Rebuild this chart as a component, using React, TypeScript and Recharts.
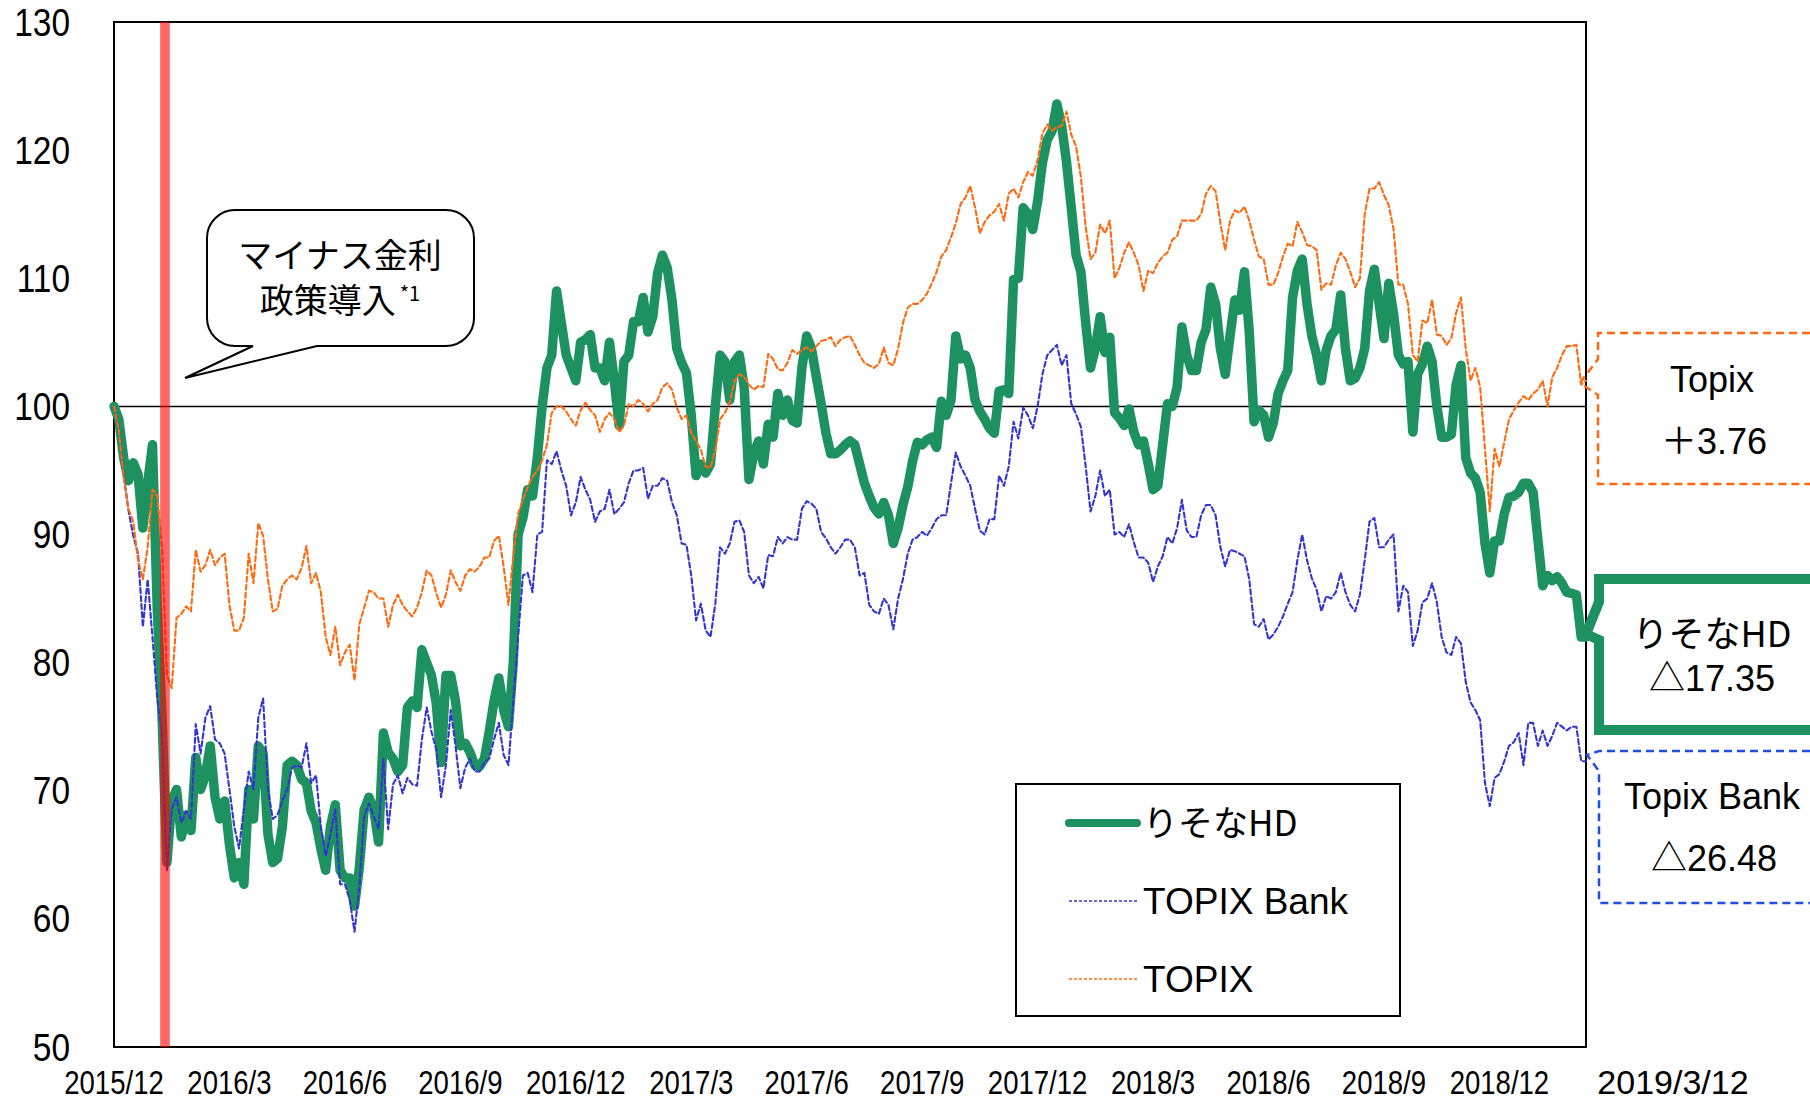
import React from "react";
import {
  LineChart,
  Line,
  XAxis,
  YAxis,
  ReferenceLine,
  ReferenceArea,
  Legend,
} from "recharts";

// index values (base 100), sampled roughly every 4 days, 2015/12 -> 2019/3/12
const risona = [
  100, 99, 96, 94.2, 95.6, 94.7, 90.5, 94, 97, 84.2,
  75.7, 64.4, 69.2, 70.1, 66.4, 68.1, 66.9, 72.6, 70.1, 71.2,
  73.5, 69.5, 67.8, 69.2, 65.8, 63.2, 64.4, 62.7, 70.1, 67.8,
  73.5, 72.9, 66.6, 64.4, 64.7, 67.2, 72, 72.3, 72, 70.9,
  70.6, 68.4, 67.5, 65.5, 63.8, 67.2, 68.9, 63.8, 63.2, 63.2,
  61, 64, 68.5, 69.5, 68.5, 66, 74.5, 73, 72.5, 71.5,
  72, 76.5, 77, 76.5, 81, 80, 79, 76.8, 72.2, 79,
  79, 77, 73.5, 73.7, 73, 72, 71.9, 72.5, 74.6, 77,
  78.8, 76.3, 75, 80, 90, 91.3, 93.5, 93, 96, 100,
  103, 104, 109, 106.5, 104, 103, 102, 105, 105.2, 105.6,
  103, 103, 102, 105, 102, 98.5, 103.5, 104, 106.6, 106.6,
  108.5, 105.8, 107, 110.4, 111.8, 110.8, 108.3, 104.5, 103.4, 102.6,
  99.3, 94.6, 95.5, 94.8, 95.5, 100, 104, 103.5, 100.5, 103.5,
  104, 101.5, 94.3, 96.3, 97.3, 95.5, 98.6, 97.6, 101, 99.3,
  100.5, 98.9, 98.7, 103, 105.5, 104.5, 102.3, 100.2, 97.9, 96.3,
  96.3, 96.6, 97, 97.3, 97, 95.5, 94, 93, 92.1, 91.6,
  92.5, 91.5, 89.3, 90.5, 92.3, 93.7, 95.7, 97.2, 97, 97.4,
  97.6, 96.8, 100.4, 99.3, 100.5, 105.5, 103.7, 104, 103, 100.5,
  99.6, 99, 98.3, 97.9, 101.2, 101.3, 101, 109.9, 110, 115.5,
  115, 113.8, 116, 119, 120.8, 121.5, 123.6, 121.9, 119.1, 115.5,
  111.8, 110.5, 106.5, 103, 104.5, 107, 104.2, 105.4, 99.5, 99.1,
  98.5, 99.8, 98, 97, 97.3, 95.5, 93.5, 93.8, 97, 100.2,
  100, 101.5, 106.2, 104, 102.8, 102.8, 105, 106, 109.3, 108,
  104.5, 102.5, 105.5, 108.3, 107.5, 110.5, 105.8, 98.8, 99.7, 99.3,
  97.6, 98.7, 101, 102, 102.8, 108.5, 110.6, 111.5, 108, 105.5,
  104, 102, 104.4, 105.5, 106, 108.7, 104.5, 102, 102.2, 103,
  104.5, 109, 110.7, 108, 105.3, 109.6, 107.2, 104, 103.3, 103.5,
  98, 102.5, 103.3, 104.7, 103.5, 100, 97.6, 97.6, 97.8, 101.7,
  103.2, 96, 94.8, 94.4, 93.3, 89.3, 87, 89.5, 89.5, 91.6,
  92.9, 93, 93.3, 94, 94, 93.3, 89.6, 86, 86.8, 86.4,
  86.7, 86.2, 85.5, 85.4, 85.3, 82, 82,
];

const topixBank = [
  100, 98.4, 94.7, 91.9, 89.9, 88.5, 82.8, 86.5, 82, 77.2,
  74.3, 63.8, 68.6, 69.5, 67.5, 68.4, 67.8, 75.2, 72.9, 75.7,
  76.6, 74, 73.7, 72.9, 70.1, 67.2, 65.5, 68.6, 71.5, 70.1,
  75.7, 77.2, 70.1, 67.8, 68.1, 69.2, 70.1, 71.8, 72, 71.8,
  73.7, 70.6, 71.2, 67.2, 64.9, 66.6, 68.6, 62.7, 62.7, 61.5,
  59, 62.5, 68, 69, 68, 67, 72.5, 67, 70.5, 71.2,
  69.8, 71, 70.5, 70.4, 74, 76.5, 74.6, 73.2, 69.5, 72,
  76.3, 73.5, 70.2, 71.8, 72.5, 71.5, 71.5, 72.2, 72.5, 74,
  75.3, 72.8, 72, 77, 82, 86.8, 87, 85.5, 90, 90.2,
  95.8, 95.5, 96.5, 95, 93.8, 91.5, 92.5, 94.5, 93.5, 92.7,
  91, 91.8, 92, 93.5, 91.6, 92, 92.5, 94, 95, 95,
  95.2, 92.8, 93.8, 93.8, 94.4, 94.2, 92.5, 91.5, 89.3, 89.2,
  86.8, 83.3, 84.6, 82.5, 82, 84.6, 89, 88.5, 89.3, 91,
  91.1, 90.2, 86.8, 86.2, 86.7, 85.8, 88.4, 88.3, 89.8, 89.3,
  89.8, 89.6, 89.6, 92, 92.6, 92.4, 92, 90.2, 89.7, 89,
  88.5, 89, 89.6, 89.6, 89, 86.8, 87, 84.5, 84, 83.8,
  85, 84.5, 82.6, 85, 86.5, 88.5, 89.6, 89.8, 90.2, 89.9,
  90.5, 91.2, 91.5, 91.5, 94, 96.4, 95.3, 94.6, 93.8, 92,
  90.3, 90, 91.2, 91.2, 94.6, 93.8, 95.3, 98.8, 97.5, 99.9,
  99.3, 98.3, 100, 102.5, 104, 104.4, 104.8, 103.2, 104, 100.2,
  99.4, 98.4, 95.3, 91.8, 93, 95, 93, 93.5, 90, 90.2,
  89.8, 90.8, 89.4, 88.2, 88.2, 87.8, 86.3, 87.5, 88.3, 89.8,
  89.3, 90.5, 92.7, 90.3, 89.8, 89.8, 91.5, 92.3, 92.3, 91.5,
  89, 87.5, 88.8, 88.7, 88.5, 88.3, 86.5, 83, 82.8, 83.4,
  81.8, 82.2, 82.8, 83.6, 84.6, 85.5, 88, 90, 88, 86.6,
  85.7, 84, 85.2, 85, 85.5, 87, 85.5, 84.5, 84, 85.3,
  88, 91, 91.3, 89, 89, 89.6, 90, 84, 86, 85.5,
  81.3, 82.5, 84.7, 85, 86.2, 84.7, 82, 80.8, 80.6, 82,
  81.5, 78.5, 76.9, 76.3, 75.5, 70.6, 68.8, 71, 71.3, 72.3,
  73.5, 73.8, 74.5, 72, 75.3, 75.3, 73.5, 74.7, 73.5, 74.3,
  75.3, 75, 74.7, 75, 75, 72.3, 72.3,
];

const topix = [
  100, 98.2, 94.5, 92, 91, 88, 86.5, 89, 93.5, 93,
  88.8, 79, 78, 83.5, 83.8, 84.4, 84, 88.8, 87.1, 87.6,
  88.8, 87.6, 88.2, 88.5, 84.5, 82.5, 82.5, 83.5, 88.5, 86.2,
  90.9, 89.9, 86.5, 84, 84.2, 86, 86.5, 86.8, 86.5, 87.4,
  89.1, 86.2, 87, 85.5, 82, 80.6, 82.8, 79.8, 80.8, 81.4,
  78.6, 83, 84.3, 85.6, 85.5, 85, 85, 82.8, 84.5, 85.3,
  84.5, 84, 83.6, 84.3, 85.5, 87.2, 86.8, 85.4, 84.3, 85.3,
  87.2, 86.3, 85.6, 86.8, 87.3, 87.1, 87.5, 88.2, 88.2, 89.5,
  89.9, 87.5, 84.5, 88.3, 91.6, 92.7, 93.7, 94.5, 95, 95.8,
  97, 99.5, 100, 100, 99.6, 99, 98.5, 99.7, 100.3, 99.7,
  99.3, 98, 99, 99.5, 99, 98, 98.5, 100.2, 100, 100.5,
  100.2, 99.6, 100.2, 100.5, 101.5, 101.8, 101.3, 99.9, 99, 99.3,
  97.9, 97.3, 96.6, 95.3, 95.2, 96.6, 99, 99.5, 100.3, 102,
  102.5, 102.3, 101.7, 101.3, 101.6, 101.5, 104.1, 103.7, 102.9, 102.8,
  103.4, 104.4, 104.1, 104.4, 104.6, 104.3, 104.7, 105.1, 105.2, 105.4,
  104.7, 105.2, 105.4, 105.5, 104.8, 104, 103.4, 103.2, 103, 103.3,
  104.6, 103.4, 103.2, 104.5, 106.5, 107.7, 108, 108, 108.3, 108.8,
  109.6, 110.5, 111.7, 112.2, 113.2, 114.3, 115.8, 116.3, 117.2, 115.5,
  113.5, 114.4, 114.9, 115.2, 115.8, 114.5, 116.6, 117, 116.3, 117.5,
  118.3, 118, 119.2, 121.3, 122, 121.5, 121.8, 121.9, 123, 121.2,
  120.3, 117.9, 114, 111.5, 112, 114.2, 113.5, 114.5, 110, 110.8,
  112, 112.8, 112, 111, 109, 110.6, 110.4, 111.2, 111.7, 112,
  113, 113.3, 114.5, 114.5, 114.5, 114.5, 115, 116.6, 117.2, 116.8,
  114.3, 112.2, 114.5, 115.3, 115.1, 115.6, 114.5, 113, 111.7, 111.5,
  109.5, 109.5, 110.4, 111.7, 112.7, 112.5, 114.4, 113.6, 112.6, 112.5,
  112.2, 109.1, 109.6, 109.5, 111, 112, 111.5, 110.5, 109.3, 110,
  115, 117, 117, 117.5, 116.5, 115.7, 113.8, 109.5, 109.5, 108,
  104, 103.5, 106.7, 106.5, 108.3, 105.6, 105.5, 104.8, 105.3, 107.3,
  108.5, 104.5, 102, 103, 101.5, 96.7, 91.8, 96.7, 95.3, 97.2,
  99, 99.7, 100.3, 100.8, 100.5, 101, 101.3, 102, 100, 102.3,
  103, 104, 104.7, 104.7, 104.8, 101.7, 102,
];

const quarterLabels = [
  "2015/12", "2016/3", "2016/6", "2016/9", "2016/12", "2017/3", "2017/6",
  "2017/9", "2017/12", "2018/3", "2018/6", "2018/9", "2018/12",
];
const samplesPerQuarter = 24;
const lastDateLabel = "2019/3/12";
const yTicks = [50, 60, 70, 80, 90, 100, 110, 120, 130];

// 2016/1/29 BOJ negative rate decision, as sample positions
const bojFrom = 9.6;
const bojTo = 11.6;

const GREEN = "#1e9160";
const BLUE = "#3434d0";
const ORANGE = "#ff6a10";
const LATIN = '"Liberation Sans", Arial, "Noto Sans CJK JP", sans-serif';
const JP = '"Noto Sans CJK JP", "Liberation Sans", sans-serif';

const series = [
  { key: "risona", name: "りそなHD", color: GREEN, width: 9.5, dash: undefined, font: JP },
  { key: "bank", name: "TOPIX Bank", color: BLUE, width: 2.1, dash: "5 3", font: LATIN },
  { key: "topix", name: "TOPIX", color: ORANGE, width: 2.1, dash: "5 3", font: LATIN },
];

const data = risona.map((v, i) => ({
  i,
  risona: v,
  bank: topixBank[i],
  topix: topix[i],
}));

// condensed labels like the original
function DateTick({ x, y, payload }: any) {
  const label = quarterLabels[Math.round(payload.value / samplesPerQuarter)];
  return (
    <g transform={`translate(${x},${y})`}>
      <text
        transform="scale(0.81,1)"
        textAnchor="middle"
        dy="0.71em"
        fontSize={34}
        fontFamily={LATIN}
        fill="#000"
      >
        {label}
      </text>
    </g>
  );
}

function ValueTick({ x, y, payload }: any) {
  return (
    <g transform={`translate(${x},${y})`}>
      <text
        transform="scale(0.88,1)"
        textAnchor="end"
        dy="0.355em"
        fontSize={38}
        fontFamily={LATIN}
        fill="#000"
      >
        {payload.value}
      </text>
    </g>
  );
}

function LegendBox() {
  return (
    <div
      style={{
        width: 386,
        height: 234,
        border: "2px solid #000",
        boxSizing: "border-box",
        background: "#fff",
      }}
    >
      <svg width={382} height={230}>
        {series.map((s, k) => {
          const y = 38 + k * 78;
          return (
            <g key={s.key}>
              <line
                x1={52}
                x2={120}
                y1={y}
                y2={y}
                stroke={s.color}
                strokeWidth={k === 0 ? 8 : 1.6}
                strokeDasharray={k === 0 ? undefined : "3 2"}
                strokeLinecap={k === 0 ? "round" : "butt"}
              />
              <text
                x={126}
                y={y}
                dy="0.36em"
                fontSize={k === 0 ? 35 : 37}
                fontFamily={s.font}
                fill="#000"
              >
                {s.name}
              </text>
            </g>
          );
        })}
      </svg>
    </div>
  );
}

export default function App() {
  const last = data.length - 1;
  return (
    <div
      style={{
        position: "absolute",
        left: 0,
        top: 0,
        width: 1810,
        height: 1103,
        background: "#fff",
        overflow: "hidden",
      }}
    >
      <LineChart
        width={1810}
        height={1103}
        data={data}
        margin={{ top: 22, right: 224, bottom: 0, left: 0 }}
      >
        <ReferenceArea
          x1={0}
          x2={last}
          y1={50}
          y2={130}
          fill="#fff"
          fillOpacity={0}
          stroke="#000"
          strokeWidth={2}
        />
        <XAxis
          type="number"
          dataKey="i"
          domain={[0, last]}
          ticks={quarterLabels.map((_, k) => k * samplesPerQuarter)}
          interval={0}
          axisLine={false}
          tickLine={false}
          tickSize={0}
          tickMargin={23}
          height={56}
          tick={<DateTick />}
        />
        <YAxis
          type="number"
          domain={[50, 130]}
          ticks={yTicks}
          interval={0}
          axisLine={false}
          tickLine={false}
          tickSize={0}
          tickMargin={44}
          width={114}
          tick={<ValueTick />}
        />
        <ReferenceLine y={100} stroke="#000" strokeWidth={1.5} />
        {series.map((s) => (
          <Line
            key={s.key}
            type="linear"
            dataKey={s.key}
            name={s.name}
            stroke={s.color}
            strokeWidth={s.width}
            strokeDasharray={s.dash}
            strokeLinejoin="round"
            strokeLinecap="round"
            dot={false}
            activeDot={false}
            isAnimationActive={false}
          />
        ))}
        <ReferenceArea
          x1={bojFrom}
          x2={bojTo}
          y1={50}
          y2={130}
          fill="#ff0000"
          fillOpacity={0.6}
          stroke="none"
          zIndex={700}
        />
        <Legend
          layout="horizontal"
          verticalAlign="middle"
          align="center"
          content={LegendBox}
          wrapperStyle={{ position: "absolute", left: 1015, top: 783, width: 386, height: 234 }}
        />
      </LineChart>

      <svg
        width={1810}
        height={1103}
        style={{ position: "absolute", left: 0, top: 0, pointerEvents: "none" }}
      >
        {/* speech bubble */}
        <path
          d="M235,210 H446 A28,28 0 0 1 474,238 V318 A28,28 0 0 1 446,346 H317 L185,378 L253,346 H235 A28,28 0 0 1 207,318 V238 A28,28 0 0 1 235,210 Z"
          fill="#fff"
          stroke="#000"
          strokeWidth={2}
        />
        <text x={340} y={268} textAnchor="middle" fontSize={34} fontFamily={JP} fill="#000">
          マイナス金利
        </text>
        <text x={340} y={313} textAnchor="middle" fontSize={34} fontFamily={JP} fill="#000">
          政策導入
          <tspan fontSize={20} dy={-12} dx={4}>
            *1
          </tspan>
        </text>

        {/* Topix callout */}
        <path
          d="M1810,333 H1598 V359 L1580,383 L1598,395 V484 H1810"
          fill="none"
          stroke={ORANGE}
          strokeWidth={2.5}
          strokeDasharray="8 5"
        />
        <text x={1712} y={392} textAnchor="middle" fontSize={36} fontFamily={LATIN} fill="#000">
          Topix
        </text>
        <text x={1714} y={454} textAnchor="middle" fontSize={36} fontFamily={LATIN} fill="#000">
          ＋3.76
        </text>

        {/* Resona callout */}
        <path
          d="M1815,579 H1599 V602 L1586,634 L1599,640 V730 H1815"
          fill="none"
          stroke={GREEN}
          strokeWidth={10}
        />
        <text x={1712} y={647} textAnchor="middle" fontSize={36} fontFamily={JP} fill="#000">
          りそなHD
        </text>
        <text x={1712} y={691} textAnchor="middle" fontSize={36} fontFamily={LATIN} fill="#000">
          △17.35
        </text>

        {/* Topix Bank callout */}
        <path
          d="M1810,751 H1599 L1587,755 L1599,771 V903 H1810"
          fill="none"
          stroke="#1f4fe0"
          strokeWidth={2.5}
          strokeDasharray="8 5"
        />
        <text x={1712} y={809} textAnchor="middle" fontSize={36} fontFamily={LATIN} fill="#000">
          Topix Bank
        </text>
        <text x={1714} y={871} textAnchor="middle" fontSize={36} fontFamily={LATIN} fill="#000">
          △26.48
        </text>

        <text x={1673} y={1094} textAnchor="middle" fontSize={34} fontFamily={LATIN} fill="#000">
          {lastDateLabel}
        </text>
      </svg>
    </div>
  );
}
